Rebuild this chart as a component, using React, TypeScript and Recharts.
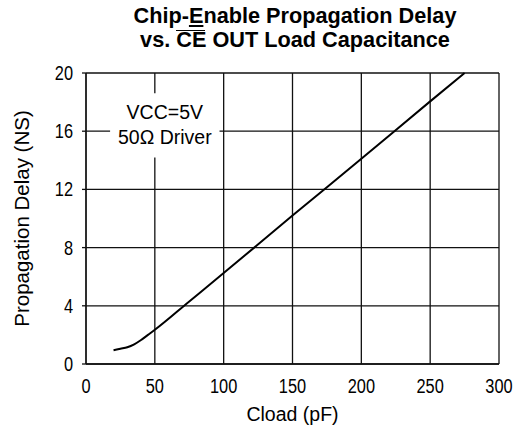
import { LineChart, Line, XAxis, YAxis, CartesianGrid, ReferenceArea } from "recharts";

// values
const cload = [20, 25, 30, 35, 40, 45, 50, 75, 100, 150, 200, 250, 275];
const delay = [0.95, 1.05, 1.15, 1.35, 1.65, 2.0, 2.35, 4.3, 6.25, 10.2, 14.1, 18.05, 20];
const xTicks = [0, 50, 100, 150, 200, 250, 300];
const yTicks = [0, 4, 8, 12, 16, 20];
const noteLines = ["VCC=5V", "50\u03a9 Driver"];

const data = cload.map((c, i) => ({ cload: c, delay: delay[i] }));

const FONT = "'Liberation Sans', Arial, sans-serif";
const GRID = "#111";

// digits in the original are narrower than Liberation Sans, so squeeze them a bit
function XTick(props: any) {
  const { x, y, payload } = props;
  return (
    <text
      transform={`translate(${x},${y + 14}) scale(0.84,1)`}
      textAnchor="middle"
      fontSize={19.5}
      fontFamily={FONT}
      fill="#000"
    >
      {payload.value}
    </text>
  );
}

function YTick(props: any) {
  const { x, y, payload } = props;
  return (
    <text
      transform={`translate(${x},${y + 7}) scale(0.84,1)`}
      textAnchor="end"
      fontSize={19.5}
      fontFamily={FONT}
      fill="#000"
    >
      {payload.value}
    </text>
  );
}

function NoteLabel(props: any) {
  const { viewBox } = props;
  const cx = viewBox.x + viewBox.width / 2;
  return (
    <g>
      {noteLines.map((t, i) => (
        <text
          key={t}
          x={cx}
          y={viewBox.y + 26 + i * 25}
          textAnchor="middle"
          fontSize={19.5}
          fontFamily={FONT}
          fill="#000"
        >
          {t}
        </text>
      ))}
    </g>
  );
}

export default function App() {
  return (
    <div style={{ position: "absolute", left: 0, top: 0, width: 514, height: 431, background: "#fff", fontFamily: FONT }}>
      <div
        style={{
          position: "absolute",
          left: 80,
          width: 430,
          top: 4,
          textAlign: "center",
          fontWeight: "bold",
          fontSize: 21.7,
          lineHeight: "23.5px",
          color: "#000",
          zIndex: 1,
        }}
      >
        <div>
          Chip-<span style={{ textDecoration: "underline" }}>E</span>nable Propagation Delay
        </div>
        <div>
          vs.{" "}
          <span style={{ position: "relative", display: "inline-block" }}>
            CE
            <span
              style={{
                position: "absolute",
                left: 0,
                right: 1,
                top: 2,
                height: 1.5,
                background: "#000",
              }}
            />
          </span>{" "}
          OUT Load Capacitance
        </div>
      </div>
      <LineChart
        width={514}
        height={431}
        data={data}
        margin={{ top: 73, right: 15, left: 0, bottom: 0 }}
      >
        <CartesianGrid stroke={GRID} strokeWidth={1.3} horizontalValues={yTicks} verticalValues={xTicks} />
        <XAxis
          dataKey="cload"
          type="number"
          domain={[0, 300]}
          ticks={xTicks}
          height={67}
          tickLine={false}
          tickSize={0}
          tickMargin={15}
          axisLine={{ stroke: GRID, strokeWidth: 1.3 }}
          tick={<XTick />}
          label={{ value: "Cload (pF)", position: "insideBottom", offset: 10, fill: "#000", fontSize: 19.5, fontFamily: FONT }}
        />
        <YAxis
          type="number"
          domain={[0, 20]}
          ticks={yTicks}
          width={86}
          tickSize={4}
          tickMargin={9}
          tickLine={{ stroke: GRID, strokeWidth: 1.3 }}
          axisLine={{ stroke: GRID, strokeWidth: 1.3 }}
          tick={<YTick />}
          label={{ value: "Propagation Delay (NS)", angle: -90, position: "center", dx: -21, fill: "#000", fontSize: 20.5, fontFamily: FONT }}
        />
        <ReferenceArea
          x1={17.5}
          x2={97}
          y1={14.2}
          y2={18.6}
          fill="#fff"
          fillOpacity={1}
          stroke="none"
          label={<NoteLabel />}
        />
        <Line
          type="monotone"
          dataKey="delay"
          stroke="#000"
          strokeWidth={2}
          dot={false}
          isAnimationActive={false}
        />
      </LineChart>
    </div>
  );
}
